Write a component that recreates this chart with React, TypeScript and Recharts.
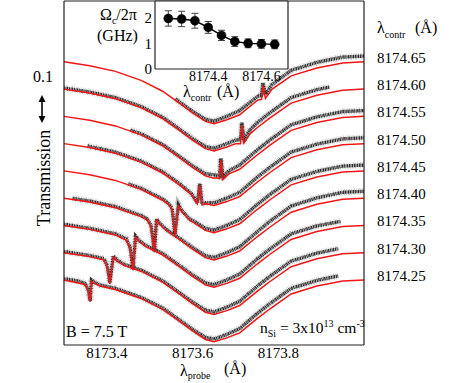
import React from 'react';
import { LineChart, Line, XAxis, YAxis, ErrorBar, CartesianGrid } from 'recharts';

const SERIF = '"Liberation Serif", "Times New Roman", serif';
const RED = '#f01616';

// probe wavelength grid (Å) for the broad absorption fits
const probeGrid = [8173.30, 8173.36, 8173.42, 8173.48, 8173.53, 8173.57, 8173.60, 8173.63, 8173.65, 8173.68, 8173.71, 8173.75, 8173.78, 8173.83, 8173.89, 8173.95, 8174.00];
const probeTicks = [8173.3, 8173.4, 8173.5, 8173.6, 8173.7, 8173.8, 8173.9, 8174.0];
const probeTickLabels = ['', '8173.4', '', '8173.6', '', '8173.8', '', ''];
const transTicks = [0.1, 0.2, 0.3, 0.4, 0.5, 0.6, 0.7, 0.8, 0.9, 1.0, 1.1, 1.2];

const controlLabels = ['8174.25', '8174.30', '8174.35', '8174.40', '8174.45', '8174.50', '8174.55', '8174.60', '8174.65'];

// fitted transmission (offset) on the probe grid
const fit_25 = [0.246, 0.231, 0.210, 0.176, 0.135, 0.089, 0.053, 0.021, 0.012, 0.027, 0.046, 0.099, 0.136, 0.193, 0.223, 0.242, 0.246];
const fit_30 = [0.349, 0.334, 0.313, 0.279, 0.238, 0.192, 0.156, 0.124, 0.115, 0.130, 0.149, 0.202, 0.239, 0.296, 0.326, 0.345, 0.349];
const fit_35 = [0.452, 0.437, 0.416, 0.382, 0.341, 0.295, 0.259, 0.227, 0.218, 0.233, 0.252, 0.305, 0.342, 0.399, 0.429, 0.448, 0.452];
const fit_40 = [0.555, 0.540, 0.519, 0.485, 0.444, 0.398, 0.362, 0.330, 0.321, 0.336, 0.355, 0.408, 0.445, 0.502, 0.532, 0.551, 0.555];
const fit_45 = [0.658, 0.643, 0.622, 0.588, 0.547, 0.501, 0.465, 0.433, 0.424, 0.439, 0.458, 0.511, 0.548, 0.605, 0.635, 0.654, 0.658];
const fit_50 = [0.761, 0.746, 0.725, 0.691, 0.650, 0.604, 0.568, 0.536, 0.527, 0.542, 0.561, 0.614, 0.651, 0.708, 0.738, 0.757, 0.761];
const fit_55 = [0.864, 0.849, 0.828, 0.794, 0.753, 0.707, 0.671, 0.639, 0.630, 0.645, 0.664, 0.717, 0.754, 0.811, 0.841, 0.860, 0.864];
const fit_60 = [0.967, 0.952, 0.931, 0.897, 0.856, 0.810, 0.774, 0.742, 0.733, 0.748, 0.767, 0.820, 0.857, 0.914, 0.944, 0.963, 0.967];
const fit_65 = [1.070, 1.055, 1.034, 1.000, 0.959, 0.913, 0.877, 0.845, 0.836, 0.851, 0.870, 0.923, 0.960, 1.017, 1.047, 1.066, 1.070];

// narrow two-photon resonance features of each fit [λ, T]
const spike_25 = [[8173.349, 0.229], [8173.357, 0.204], [8173.361, 0.163], [8173.364, 0.242], [8173.370, 0.234], [8173.384, 0.223]];
const spike_30 = [[8173.393, 0.322], [8173.401, 0.295], [8173.407, 0.231], [8173.415, 0.333], [8173.424, 0.317], [8173.440, 0.301]];
const spike_35 = [[8173.445, 0.397], [8173.454, 0.367], [8173.461, 0.283], [8173.467, 0.408], [8173.475, 0.391], [8173.491, 0.372]];
const spike_40 = [[8173.494, 0.473], [8173.503, 0.448], [8173.511, 0.351], [8173.516, 0.472], [8173.524, 0.455], [8173.540, 0.431]];
const spike_45 = [[8173.543, 0.532], [8173.552, 0.514], [8173.559, 0.416], [8173.567, 0.525], [8173.575, 0.504], [8173.594, 0.470]];
const spike_50 = [[8173.597, 0.569], [8173.611, 0.533], [8173.617, 0.605], [8173.622, 0.530], [8173.633, 0.534]];
const spike_55 = [[8173.655, 0.632], [8173.663, 0.628], [8173.666, 0.699], [8173.671, 0.625], [8173.685, 0.647]];
const spike_60 = [[8173.701, 0.761], [8173.712, 0.761], [8173.715, 0.831], [8173.720, 0.763], [8173.734, 0.798]];
const spike_65 = [[8173.753, 0.926], [8173.761, 0.928], [8173.764, 0.979], [8173.770, 0.932], [8173.785, 0.966]];

// measured transmission [λ, T]
const meas_25 = [[8173.30, 0.250], [8173.33, 0.243], [8173.349, 0.233], [8173.357, 0.208], [8173.361, 0.167], [8173.364, 0.246], [8173.370, 0.238], [8173.384, 0.227], [8173.42, 0.214], [8173.48, 0.180], [8173.53, 0.140], [8173.57, 0.094], [8173.60, 0.059], [8173.63, 0.029], [8173.65, 0.022], [8173.68, 0.040], [8173.71, 0.062], [8173.75, 0.118], [8173.78, 0.156], [8173.83, 0.214], [8173.89, 0.244], [8173.94, 0.261]];
const meas_30 = [[8173.30, 0.353], [8173.36, 0.338], [8173.393, 0.326], [8173.401, 0.299], [8173.407, 0.235], [8173.415, 0.337], [8173.424, 0.321], [8173.440, 0.305], [8173.48, 0.283], [8173.53, 0.243], [8173.57, 0.197], [8173.60, 0.162], [8173.63, 0.132], [8173.65, 0.125], [8173.68, 0.143], [8173.71, 0.165], [8173.75, 0.221], [8173.78, 0.259], [8173.83, 0.317], [8173.89, 0.347], [8173.94, 0.364]];
const meas_35 = [[8173.30, 0.456], [8173.36, 0.441], [8173.42, 0.420], [8173.445, 0.401], [8173.454, 0.371], [8173.461, 0.287], [8173.467, 0.412], [8173.475, 0.395], [8173.491, 0.376], [8173.53, 0.346], [8173.57, 0.300], [8173.60, 0.265], [8173.63, 0.235], [8173.65, 0.228], [8173.68, 0.246], [8173.71, 0.268], [8173.75, 0.324], [8173.78, 0.362], [8173.83, 0.420], [8173.89, 0.450], [8173.945, 0.467]];
const meas_40 = [[8173.32, 0.554], [8173.36, 0.544], [8173.42, 0.523], [8173.48, 0.489], [8173.494, 0.477], [8173.503, 0.452], [8173.511, 0.355], [8173.516, 0.476], [8173.524, 0.459], [8173.540, 0.435], [8173.57, 0.403], [8173.60, 0.368], [8173.63, 0.338], [8173.65, 0.331], [8173.68, 0.349], [8173.71, 0.371], [8173.75, 0.427], [8173.78, 0.467], [8173.83, 0.525], [8173.89, 0.556], [8173.95, 0.577], [8174.00, 0.581]];
const meas_45 = [[8173.45, 0.609], [8173.48, 0.592], [8173.53, 0.552], [8173.543, 0.536], [8173.552, 0.518], [8173.559, 0.420], [8173.567, 0.529], [8173.575, 0.508], [8173.594, 0.474], [8173.60, 0.471], [8173.63, 0.441], [8173.65, 0.434], [8173.68, 0.452], [8173.71, 0.474], [8173.75, 0.530], [8173.78, 0.568], [8173.83, 0.626], [8173.89, 0.656], [8173.95, 0.676], [8174.00, 0.680]];
const meas_50 = [[8173.355, 0.752], [8173.42, 0.729], [8173.48, 0.695], [8173.53, 0.655], [8173.57, 0.609], [8173.597, 0.573], [8173.611, 0.537], [8173.617, 0.609], [8173.622, 0.534], [8173.633, 0.538], [8173.65, 0.537], [8173.68, 0.555], [8173.71, 0.577], [8173.75, 0.633], [8173.78, 0.671], [8173.83, 0.729], [8173.89, 0.759], [8173.95, 0.779], [8174.00, 0.783]];
const meas_55 = [[8173.455, 0.812], [8173.48, 0.798], [8173.53, 0.758], [8173.57, 0.712], [8173.60, 0.677], [8173.63, 0.647], [8173.655, 0.642], [8173.663, 0.638], [8173.666, 0.705], [8173.671, 0.635], [8173.685, 0.659], [8173.71, 0.680], [8173.75, 0.736], [8173.78, 0.774], [8173.83, 0.832], [8173.89, 0.862], [8173.95, 0.882], [8174.00, 0.886]];
const meas_60 = [[8173.30, 0.971], [8173.36, 0.956], [8173.42, 0.935], [8173.48, 0.901], [8173.53, 0.861], [8173.57, 0.815], [8173.60, 0.780], [8173.63, 0.750], [8173.65, 0.743], [8173.68, 0.761], [8173.701, 0.775], [8173.712, 0.775], [8173.715, 0.840], [8173.720, 0.777], [8173.734, 0.813], [8173.75, 0.839], [8173.78, 0.877], [8173.83, 0.935], [8173.89, 0.965], [8173.92, 0.975]];
const meas_65 = [[8173.56, 0.930], [8173.57, 0.918], [8173.60, 0.883], [8173.63, 0.853], [8173.65, 0.846], [8173.68, 0.864], [8173.71, 0.886], [8173.753, 0.941], [8173.761, 0.943], [8173.764, 0.990], [8173.770, 0.947], [8173.785, 0.984], [8173.83, 1.038], [8173.89, 1.068], [8173.95, 1.088], [8174.00, 1.092]];

// inset: coupling Rabi frequency vs control wavelength
const controlWavelengths = [8174.25, 8174.30, 8174.35, 8174.40, 8174.45, 8174.50, 8174.55, 8174.60, 8174.65];
const rabiGHz = [1.97, 1.95, 1.88, 1.62, 1.31, 1.07, 1.00, 0.98, 0.96];
const rabiErr = [0.30, 0.30, 0.29, 0.23, 0.20, 0.19, 0.17, 0.17, 0.17];
const insetXTicks = [8174.3, 8174.4, 8174.5, 8174.6, 8174.7];
const insetXTickLabels = ['', '8174.4', '', '8174.6', ''];
const insetYTicks = [0, 0.5, 1, 1.5, 2, 2.5];
const insetYTickLabels = ['0', '', '1', '', '2', ''];

type Pt = { x: number; y: number };

function buildFit(grid: number[], vals: number[], spike: number[][]): Pt[] {
  const lo = spike[0][0];
  const hi = spike[spike.length - 1][0];
  const pts: Pt[] = grid.map((x, i) => ({ x, y: vals[i] })).filter((p) => p.x < lo || p.x > hi);
  spike.forEach(([x, y]) => pts.push({ x, y }));
  pts.sort((a, b) => a.x - b.x);
  return pts;
}
const toPts = (arr: number[][]): Pt[] => arr.map(([x, y]) => ({ x, y }));

const traceDefs = [
  { label: controlLabels[0], fit: fit_25, spike: spike_25, meas: meas_25 },
  { label: controlLabels[1], fit: fit_30, spike: spike_30, meas: meas_30 },
  { label: controlLabels[2], fit: fit_35, spike: spike_35, meas: meas_35 },
  { label: controlLabels[3], fit: fit_40, spike: spike_40, meas: meas_40 },
  { label: controlLabels[4], fit: fit_45, spike: spike_45, meas: meas_45 },
  { label: controlLabels[5], fit: fit_50, spike: spike_50, meas: meas_50 },
  { label: controlLabels[6], fit: fit_55, spike: spike_55, meas: meas_55 },
  { label: controlLabels[7], fit: fit_60, spike: spike_60, meas: meas_60 },
  { label: controlLabels[8], fit: fit_65, spike: spike_65, meas: meas_65 },
];
const traces = traceDefs.map((t) => ({
  label: t.label,
  fitPts: buildFit(probeGrid, t.fit, t.spike),
  measPts: toPts(t.meas),
  end: t.fit[t.fit.length - 1],
}));
const endValues = traces.map((t) => t.end);

const insetData = controlWavelengths.map((x, i) => ({ x, y: rabiGHz[i], err: rabiErr[i] }));

const axisStroke = { stroke: '#222', strokeWidth: 1.2 };
const tickStroke = { stroke: '#222', strokeWidth: 1 };

const RightLabel = (p: any) => {
  const v = p.payload ? p.payload.value : undefined;
  const tr = traces.find((t) => t.end === v);
  if (!tr) return null;
  return (
    <text x={p.x + 13} y={p.y - 4} dominantBaseline="central" fontSize={15} fontFamily={SERIF} fill="#000">
      {tr.label}
    </text>
  );
};

function MainChart() {
  return (
    <LineChart width={469} height={383} margin={{ top: 1, right: 104, bottom: 37, left: 64 }}>
      <XAxis
        type="number"
        dataKey="x"
        domain={[8173.3, 8174.0]}
        ticks={probeTicks}
        interval={0}
        height={1}
        tickSize={0}
        tickMargin={2}
        tickLine={false}
        axisLine={axisStroke}
        tickFormatter={(v: number, i: number) => probeTickLabels[i]}
        tick={{ fontSize: 15, fill: '#000', fontFamily: SERIF }}
      />
      <XAxis xAxisId="bt" type="number" domain={[8173.3, 8174.0]} ticks={probeTicks} interval={0} allowDataOverflow mirror height={1} tick={false} tickSize={5} tickLine={tickStroke} axisLine={false} />
      <XAxis xAxisId="tp" orientation="top" type="number" domain={[8173.3, 8174.0]} ticks={probeTicks} interval={0} allowDataOverflow mirror height={1} tick={false} tickSize={5} tickLine={tickStroke} axisLine={axisStroke} />
      <YAxis type="number" domain={[0, 1.3]} ticks={transTicks} interval={0} mirror width={1} tick={false} tickSize={5} tickLine={tickStroke} axisLine={axisStroke} />
      <YAxis yAxisId="rt" orientation="right" type="number" domain={[0, 1.3]} ticks={transTicks} interval={0} allowDataOverflow mirror width={1} tick={false} tickSize={5} tickLine={tickStroke} axisLine={axisStroke} />
      <YAxis yAxisId="lab" orientation="right" type="number" domain={[0, 1.3]} ticks={endValues} interval={0} allowDataOverflow width={1} tickSize={0} tickMargin={0} tickLine={false} axisLine={false} tick={RightLabel} />
      {traces.map((t) => (
        <Line key={'mh' + t.label} data={t.measPts} dataKey="y" type="linear" stroke="#888" strokeWidth={6.5} strokeDasharray="0.5 1.2 0.4 0.9 0.7 1.5" strokeOpacity={0.6} dot={false} isAnimationActive={false} />
      ))}
      {traces.map((t) => (
        <Line key={'mm' + t.label} data={t.measPts} dataKey="y" type="linear" stroke="#262626" strokeWidth={3.4} strokeDasharray="1.2 0.5 0.7 0.4 1.5 0.6" strokeOpacity={0.95} dot={false} isAnimationActive={false} />
      ))}
      {traces.map((t) => (
        <Line key={'f' + t.label} data={t.fitPts} dataKey="y" type="linear" stroke={RED} strokeWidth={1.5} dot={false} isAnimationActive={false} />
      ))}
    </LineChart>
  );
}

function InsetChart() {
  return (
    <LineChart width={469} height={100} data={insetData} margin={{ top: 1, right: 181, bottom: 30, left: 154 }}>
      <CartesianGrid fill="#fff" horizontal={false} vertical={false} />
      <XAxis
        type="number"
        dataKey="x"
        domain={[8174.2, 8174.7]}
        ticks={insetXTicks}
        interval={0}
        height={1}
        tickSize={0}
        tickMargin={2}
        tickLine={false}
        axisLine={axisStroke}
        tickFormatter={(v: number, i: number) => insetXTickLabels[i]}
        tick={{ fontSize: 14, fill: '#000', fontFamily: SERIF }}
      />
      <XAxis xAxisId="ib" type="number" domain={[8174.2, 8174.7]} ticks={insetXTicks} interval={0} allowDataOverflow mirror height={1} tick={false} tickSize={4} tickLine={tickStroke} axisLine={false} />
      <XAxis xAxisId="it" orientation="top" type="number" domain={[8174.2, 8174.7]} ticks={insetXTicks} interval={0} allowDataOverflow mirror height={1} tick={false} tickSize={4} tickLine={tickStroke} axisLine={axisStroke} />
      <YAxis
        type="number"
        domain={[0, 2.65]}
        ticks={insetYTicks}
        interval={0}
        width={1}
        tickSize={0}
        tickMargin={3}
        tickLine={false}
        axisLine={axisStroke}
        tickFormatter={(v: number, i: number) => insetYTickLabels[i]}
        tick={{ fontSize: 15, fill: '#000', fontFamily: SERIF }}
      />
      <YAxis yAxisId="il" type="number" domain={[0, 2.65]} ticks={insetYTicks} interval={0} allowDataOverflow mirror width={1} tick={false} tickSize={4} tickLine={tickStroke} axisLine={false} />
      <YAxis yAxisId="ir" orientation="right" type="number" domain={[0, 2.65]} ticks={insetYTicks} interval={0} allowDataOverflow mirror width={1} tick={false} tickSize={4} tickLine={tickStroke} axisLine={axisStroke} />
      <Line dataKey="y" type="linear" stroke="#000" strokeWidth={1.4} dot={{ r: 4.5, fill: '#000', stroke: '#000', strokeWidth: 0.5 }} isAnimationActive={false}>
        <ErrorBar dataKey="err" direction="y" width={3.5} stroke="#444" strokeWidth={1} />
      </Line>
    </LineChart>
  );
}

function Annotations() {
  const t = { fontFamily: SERIF, fill: '#000' } as const;
  return (
    <svg width={469} height={383} style={{ position: 'absolute', left: 0, top: 0, pointerEvents: 'none' }}>
      <text {...t} fontSize={18} textAnchor="middle" transform="translate(50,178) rotate(-90)">Transmission</text>
      <text {...t} fontSize={16} x={33} y={82}>0.1</text>
      <line x1={42} y1={100} x2={42} y2={118} stroke="#000" strokeWidth={1.6} />
      <polygon points="42,95 38.5,102 45.5,102" fill="#000" />
      <polygon points="42,123 38.5,116 45.5,116" fill="#000" />
      <text {...t} fontSize={16} x={66} y={337}>B = 7.5 T</text>
      <text {...t} fontSize={15.5} x={260} y={333}>
        n<tspan fontSize={10} dy={4}>Si</tspan>
        <tspan dy={-4}> = 3x10</tspan>
        <tspan fontSize={10} dy={-6}>13</tspan>
        <tspan dy={6}> cm</tspan>
        <tspan fontSize={10} dy={-6}>-3</tspan>
      </text>
      <text {...t} fontSize={16} x={377} y={33}>
        λ<tspan fontSize={10} dy={5}>contr</tspan>
      </text>
      <text {...t} fontSize={16} x={415} y={33}>(Å)</text>
      <text {...t} fontSize={16} x={180} y={376}>
        λ<tspan fontSize={10} dy={3}>probe</tspan>
      </text>
      <text {...t} fontSize={16} x={224} y={374}>(Å)</text>
      <text {...t} fontSize={16} x={100} y={20}>
        Ω<tspan fontSize={10} dy={4}>c</tspan>
        <tspan dy={-4}>/2π</tspan>
      </text>
      <text {...t} fontSize={16} x={97} y={41}>(GHz)</text>
      <text {...t} fontSize={16} x={183} y={97}>
        λ<tspan fontSize={10} dy={4}>contr</tspan>
      </text>
      <text {...t} fontSize={16} x={217} y={97}>(Å)</text>
    </svg>
  );
}

export default function App() {
  return (
    <div style={{ position: 'absolute', left: 0, top: 0, width: 469, height: 383, background: '#fff' }}>
      <div style={{ position: 'absolute', left: 0, top: 0 }}>
        <MainChart />
      </div>
      <div style={{ position: 'absolute', left: 0, top: 0 }}>
        <InsetChart />
      </div>
      <Annotations />
    </div>
  );
}
